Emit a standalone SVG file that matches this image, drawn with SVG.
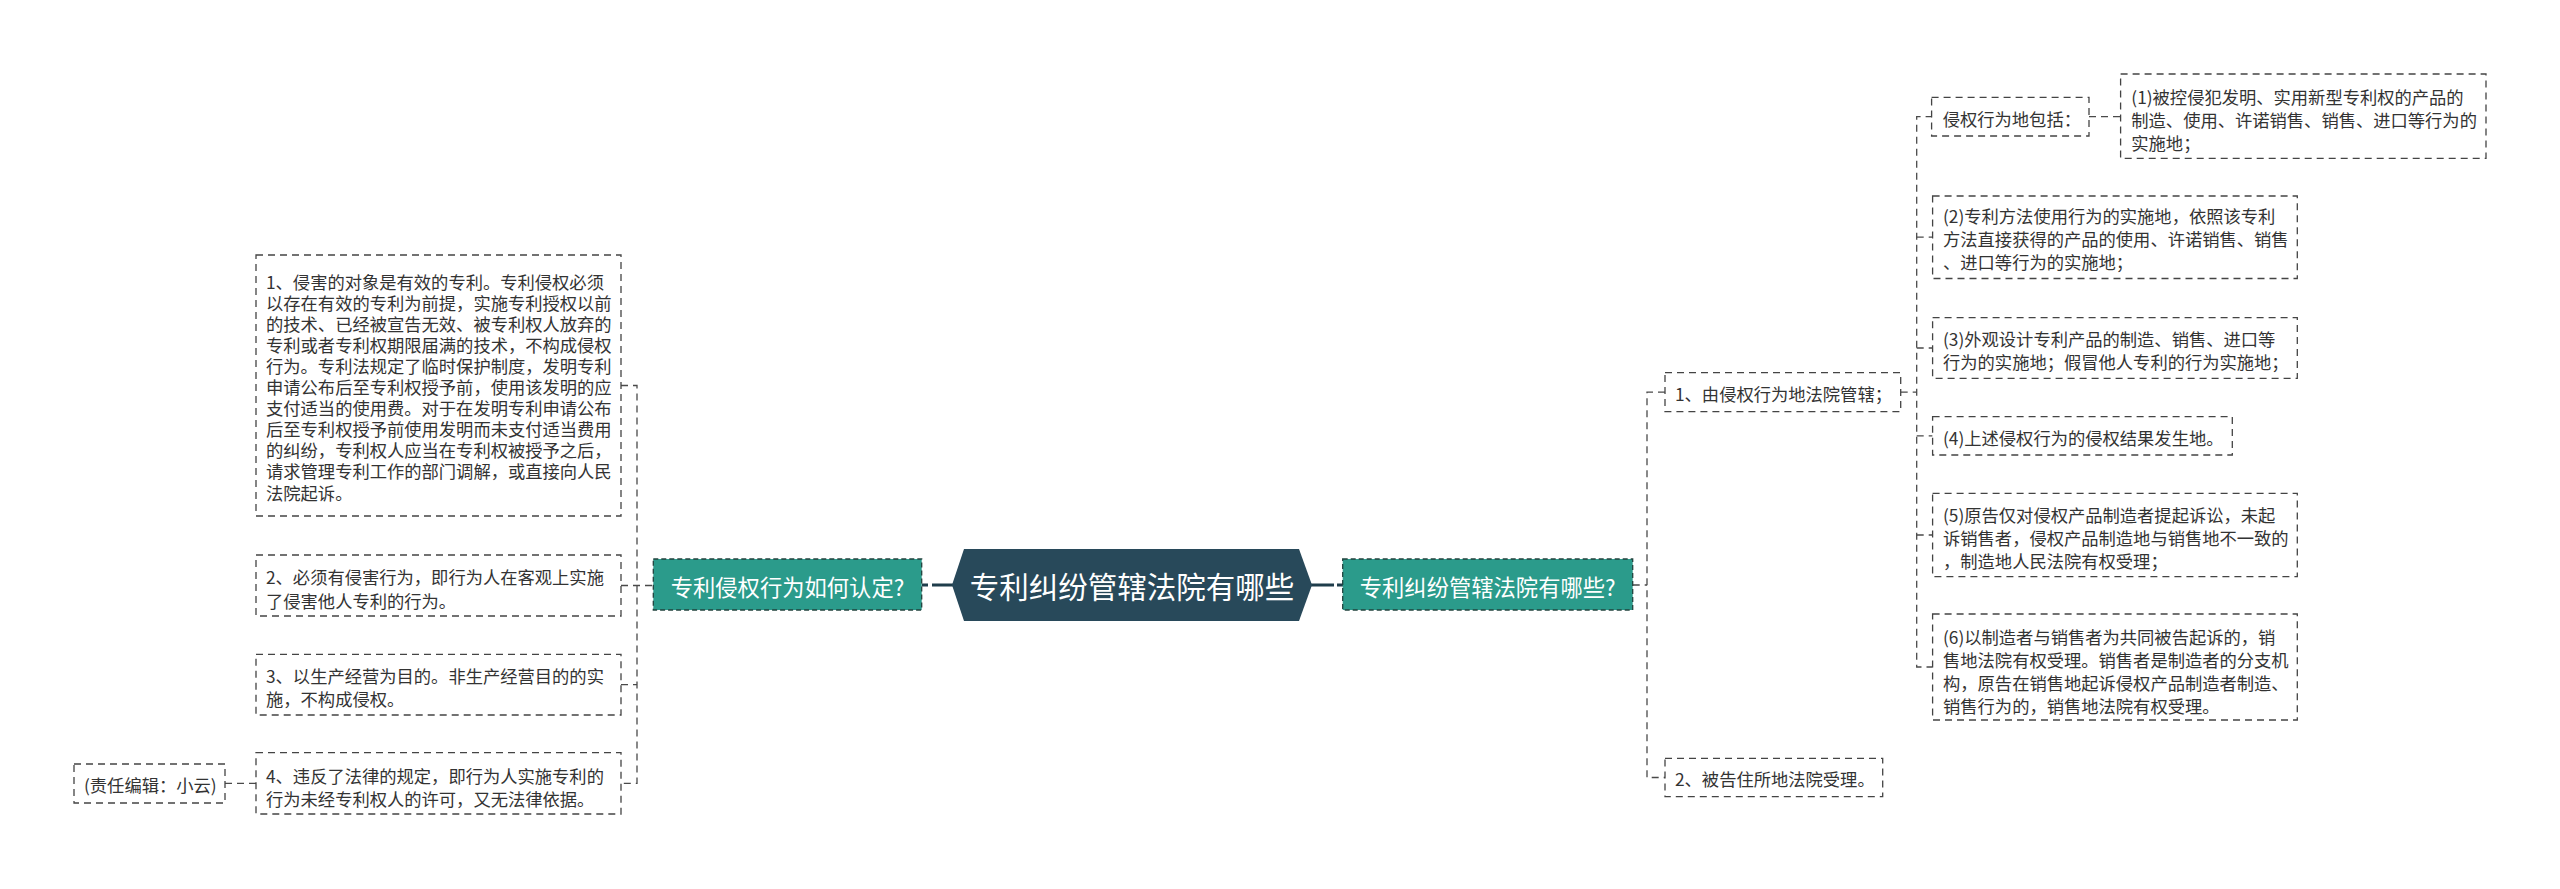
<svg xmlns="http://www.w3.org/2000/svg" width="2560" height="889" viewBox="0 0 2560 889">
<style>
.box{fill:#ffffff;stroke:#444444;stroke-width:1.3;stroke-dasharray:7 5}
.main{fill:#2b9b8b;stroke:#22433e;stroke-width:1.3;stroke-dasharray:5 3}
.center{fill:#28495a}
.con{fill:none;stroke:#4a4a4a;stroke-width:1.3;stroke-dasharray:7 5}
.solid{fill:none;stroke:#1f3d4b;stroke-width:3}
.t{font-family:"Noto Sans CJK SC","Liberation Sans",sans-serif;font-size:17.3px;fill:#333333;dominant-baseline:central}
.tm{font-family:"Noto Sans CJK SC","Liberation Sans",sans-serif;font-size:22.3px;fill:#ffffff;dominant-baseline:central;text-anchor:middle}
.tc{font-family:"Noto Sans CJK SC","Liberation Sans",sans-serif;font-size:29.5px;fill:#ffffff;dominant-baseline:central;text-anchor:middle}
</style>
<rect width="2560" height="889" fill="#ffffff"/>
<g id="connectors">
<path class="con" d="M621,385.5 H637 V783.3 H621"/>
<path class="con" d="M621,585.5 H653"/>
<path class="con" d="M621,684.7 H637"/>
<path class="con" d="M225,783.3 H256"/>
<path class="con" d="M1632.7,585 H1647"/>
<path class="con" d="M1665,392.2 H1647 V777.5 H1665"/>
<path class="con" d="M1900.7,392.2 H1916.7"/>
<path class="con" d="M1932.6,116.7 H1916.7 V667 H1932.6"/>
<path class="con" d="M1916.7,237.2 H1932.6"/>
<path class="con" d="M1916.7,348 H1932.6"/>
<path class="con" d="M1916.7,435.8 H1932.6"/>
<path class="con" d="M1916.7,535 H1932.6"/>
<path class="con" d="M2089,116.7 H2120.6"/>
<path class="solid" d="M922,585 H928 M932,585 H953"/>
<path class="solid" d="M1311,585 H1334 M1337,585 H1343"/>
</g>
<g id="center">
<polygon class="center" points="952,585 964,549 1299,549 1312,585 1299,621 964,621"/>
<text class="tc" x="1132" y="585">专利纠纷管辖法院有哪些</text>
</g>
<g id="main-left">
<rect class="main" x="653.3" y="559" width="268.4" height="51"/>
<text class="tm" x="787.5" y="585.5">专利侵权行为如何认定?</text>
</g>
<g id="main-right">
<rect class="main" x="1342.7" y="559" width="290" height="51"/>
<text class="tm" x="1487.7" y="585.5">专利纠纷管辖法院有哪些?</text>
</g>
<g id="l1">
<rect class="box" x="256" y="255" width="365" height="261"/>
<text class="t" x="266" y="281">1、侵害的对象是有效的专利。专利侵权必须</text>
<text class="t" x="266" y="302.1">以存在有效的专利为前提，实施专利授权以前</text>
<text class="t" x="266" y="323.2">的技术、已经被宣告无效、被专利权人放弃的</text>
<text class="t" x="266" y="344.3">专利或者专利权期限届满的技术，不构成侵权</text>
<text class="t" x="266" y="365.4">行为。专利法规定了临时保护制度，发明专利</text>
<text class="t" x="266" y="386.5">申请公布后至专利权授予前，使用该发明的应</text>
<text class="t" x="266" y="407.6">支付适当的使用费。对于在发明专利申请公布</text>
<text class="t" x="266" y="428.7">后至专利权授予前使用发明而未支付适当费用</text>
<text class="t" x="266" y="449.8">的纠纷，专利权人应当在专利权被授予之后，</text>
<text class="t" x="266" y="470.9">请求管理专利工作的部门调解，或直接向人民</text>
<text class="t" x="266" y="492">法院起诉。</text>
</g>
<g id="l2">
<rect class="box" x="256" y="555" width="365" height="61"/>
<text class="t" x="266" y="576.7">2、必须有侵害行为，即行为人在客观上实施</text>
<text class="t" x="266" y="600">了侵害他人专利的行为。</text>
</g>
<g id="l3">
<rect class="box" x="256" y="654.3" width="365" height="60.7"/>
<text class="t" x="266" y="675">3、以生产经营为目的。非生产经营目的的实</text>
<text class="t" x="266" y="698.3">施，不构成侵权。</text>
</g>
<g id="l4">
<rect class="box" x="256" y="752.7" width="365" height="61.3"/>
<text class="t" x="266" y="775">4、违反了法律的规定，即行为人实施专利的</text>
<text class="t" x="266" y="798.3">行为未经专利权人的许可，又无法律依据。</text>
</g>
<g id="editor">
<rect class="box" x="74" y="764" width="151" height="39"/>
<text class="t" x="84" y="784">(责任编辑：小云)</text>
</g>
<g id="r1">
<rect class="box" x="1665" y="372.7" width="235.7" height="39"/>
<text class="t" x="1675" y="393.5">1、由侵权行为地法院管辖；</text>
</g>
<g id="r2">
<rect class="box" x="1665" y="758.3" width="217.7" height="38.4"/>
<text class="t" x="1675" y="778.5">2、被告住所地法院受理。</text>
</g>
<g id="k">
<rect class="box" x="1931.6" y="97.3" width="157.4" height="38.7"/>
<text class="t" x="1942.7" y="118.5">侵权行为地包括：</text>
</g>
<g id="p1">
<rect class="box" x="2120.6" y="74" width="365.4" height="84.3"/>
<text class="t" x="2131.3" y="96">(1)被控侵犯发明、实用新型专利权的产品的</text>
<text class="t" x="2131.3" y="119">制造、使用、许诺销售、销售、进口等行为的</text>
<text class="t" x="2131.3" y="142">实施地；</text>
</g>
<g id="p2">
<rect class="box" x="1932.6" y="196" width="364.7" height="82.5"/>
<text class="t" x="1943" y="215.5">(2)专利方法使用行为的实施地，依照该专利</text>
<text class="t" x="1943" y="238.5">方法直接获得的产品的使用、许诺销售、销售</text>
<text class="t" x="1943" y="261.5">、进口等行为的实施地；</text>
</g>
<g id="p3">
<rect class="box" x="1932.6" y="317.7" width="364.7" height="60.6"/>
<text class="t" x="1943" y="338.5">(3)外观设计专利产品的制造、销售、进口等</text>
<text class="t" x="1943" y="361">行为的实施地；假冒他人专利的行为实施地；</text>
</g>
<g id="p4">
<rect class="box" x="1932.6" y="416.7" width="299.7" height="38.3"/>
<text class="t" x="1943" y="437">(4)上述侵权行为的侵权结果发生地。</text>
</g>
<g id="p5">
<rect class="box" x="1932.6" y="493.3" width="364.7" height="83.4"/>
<text class="t" x="1943" y="514">(5)原告仅对侵权产品制造者提起诉讼，未起</text>
<text class="t" x="1943" y="537">诉销售者，侵权产品制造地与销售地不一致的</text>
<text class="t" x="1943" y="560">，制造地人民法院有权受理；</text>
</g>
<g id="p6">
<rect class="box" x="1932.6" y="614" width="364.7" height="106"/>
<text class="t" x="1943" y="636.5">(6)以制造者与销售者为共同被告起诉的，销</text>
<text class="t" x="1943" y="659.5">售地法院有权受理。销售者是制造者的分支机</text>
<text class="t" x="1943" y="682.5">构，原告在销售地起诉侵权产品制造者制造、</text>
<text class="t" x="1943" y="705.5">销售行为的，销售地法院有权受理。</text>
</g>
</svg>
